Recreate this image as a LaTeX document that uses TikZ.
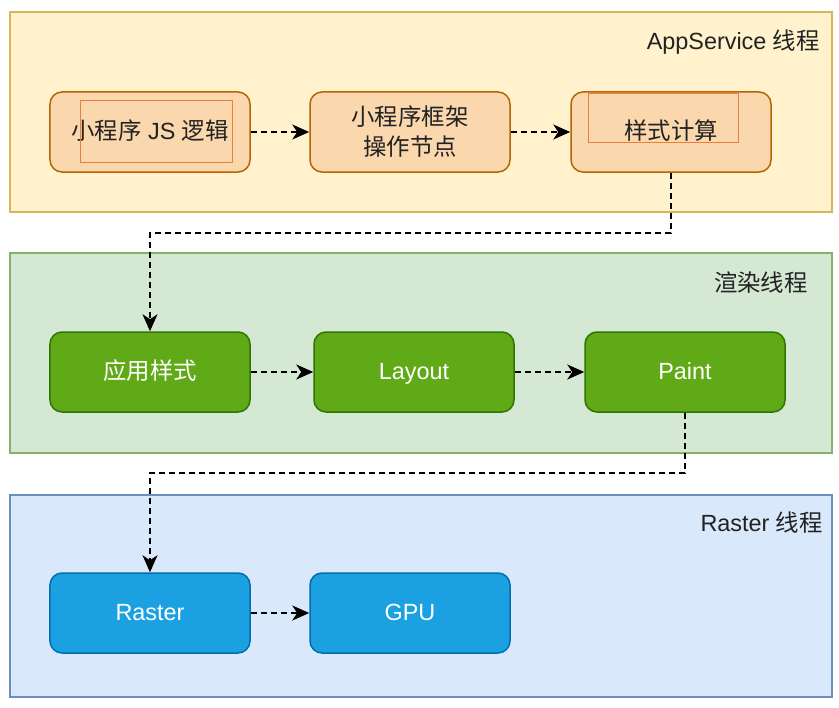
\documentclass[tikz,border=0pt]{standalone}
\usepackage{fontspec}
\setmainfont{Liberation Sans}
\newfontfamily\cjk{Noto Sans CJK SC}
\usetikzlibrary{arrows.meta}
\definecolor{laneYf}{HTML}{FFF2CC}
\definecolor{laneYd}{HTML}{D6B656}
\definecolor{laneGf}{HTML}{D5E8D4}
\definecolor{laneGd}{HTML}{82B366}
\definecolor{laneBf}{HTML}{DAE8FC}
\definecolor{laneBd}{HTML}{6C8EBF}
\definecolor{boxYf}{HTML}{FAD7AC}
\definecolor{boxYd}{HTML}{B46504}
\definecolor{boxGf}{HTML}{60A917}
\definecolor{boxGd}{HTML}{2D7600}
\definecolor{boxBf}{HTML}{1BA1E2}
\definecolor{boxBd}{HTML}{006EAF}
\definecolor{innerd}{HTML}{E8803A}
\definecolor{txt}{HTML}{222222}
\begin{document}
\begin{tikzpicture}[x=1bp,y=-1bp,
  every node/.style={font=\fontsize{23.5}{30}\selectfont},
  lane/.style={draw, line width=1.2bp, minimum width=822bp, minimum height=200bp, inner sep=0pt},
  box/.style={draw, rounded corners=12bp, line width=1.5bp, minimum width=200bp, minimum height=80bp, align=center, inner sep=0pt},
  one/.style={text height=18bp, text depth=3bp},
  ybox/.style={box, fill=boxYf, draw=boxYd, text=txt},
  gbox/.style={box, one, fill=boxGf, draw=boxGd, text=white},
  bbox/.style={box, one, fill=boxBf, draw=boxBd, text=white},
  innerbox/.style={draw=innerd, line width=1bp, inner sep=0pt},
  lanelabel/.style={anchor=east, text=txt, inner sep=0pt},
  conn/.style={draw=black, line width=2bp, dash pattern=on 6bp off 4bp, -{Stealth[length=17bp,width=15bp,inset=5bp]}}
]
\useasboundingbox (0,0) rectangle (839,708);
\fill[white] (0,0) rectangle (839,708);
% lanes
\node[lane, fill=laneYf, draw=laneYd] (L1) at (421,112) {};
\node[lane, fill=laneGf, draw=laneGd] (L2) at (421,353) {};
\node[lane, fill=laneBf, draw=laneBd, minimum height=202bp] (L3) at (421,596) {};
\node[lanelabel] (t1) at (820,42) {AppService {\cjk 线程}};
\node[lanelabel] (t2) at (808,283) {\cjk 渲染线程};
\node[lanelabel] (t3) at (823,523) {Raster {\cjk 线程}};
% row 1
\node[ybox, one] (a1) at (150,132) {{\cjk 小程序} JS {\cjk 逻辑}};
\node[ybox] (a2) at (410,132) {\cjk 小程序框架\\\cjk 操作节点};
\node[ybox, one] (a3) at (671,132) {\cjk 样式计算};
\node[innerbox, minimum width=152bp, minimum height=61bp] (i1) at (156,131.5) {};
\node[innerbox, minimum width=150bp, minimum height=48bp] (i3) at (663,118) {};
% row 2
\node[gbox] (b1) at (150,372) {\cjk 应用样式};
\node[gbox] (b2) at (414,372) {Layout};
\node[gbox] (b3) at (685,372) {Paint};
% row 3
\node[bbox] (c1) at (150,613) {Raster};
\node[bbox] (c2) at (410,613) {GPU};
% connectors
\coordinate (k1) at (400,233);
\coordinate (k2) at (400,473);
\draw[conn] (a1) -- (a2);
\draw[conn] (a2) -- (a3);
\draw[conn] (b1) -- (b2);
\draw[conn] (b2) -- (b3);
\draw[conn] (c1) -- (c2);
\draw[conn] (a3.south) -- (a3.south |- k1) -- (b1.north |- k1) -- (b1.north);
\draw[conn] (b3.south) -- (b3.south |- k2) -- (c1.north |- k2) -- (c1.north);
\end{tikzpicture}
\end{document}
